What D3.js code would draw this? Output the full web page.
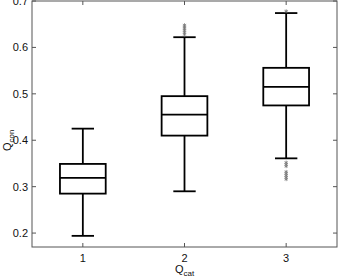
<!doctype html>
<html>
<head>
<style>
  body { margin: 0; background: #fff; }
  text { font-family: "Liberation Sans", Arial, sans-serif; }
</style>
<script src="https://cdn.jsdelivr.net/npm/d3@7"></script>
</head>
<body>
<svg width="338" height="280" id="chart"></svg>
<script>
// box stats
var cats = [1, 2, 3];
var lowWhisk = [0.194, 0.290, 0.361];
var q1 = [0.285, 0.410, 0.475];
var med = [0.319, 0.455, 0.515];
var q3 = [0.349, 0.495, 0.556];
var highWhisk = [0.425, 0.622, 0.674];
var outliers = [
  [],
  [0.628, 0.632, 0.636, 0.640, 0.644, 0.648],
  [0.344, 0.348, 0.352, 0.316, 0.320, 0.324, 0.328, 0.332, 0.678]
];
var yTicks = [0.2, 0.3, 0.4, 0.5, 0.6, 0.7];

var svg = d3.select("#chart");
var pLeft = 32, pRight = 337, pTop = 1, pBottom = 247;

var x = d3.scaleLinear().domain([0.5, 3.5]).range([pLeft, pRight]);
var y = d3.scaleLinear().domain([0.17, 0.7]).range([pBottom, pTop]);

var axisColor = "#555";

// frame
svg.append("rect")
   .attr("x", pLeft).attr("y", pTop)
   .attr("width", pRight - pLeft).attr("height", pBottom - pTop)
   .attr("fill", "none").attr("stroke", axisColor).attr("stroke-width", 1);

// ticks (inward, on all four sides)
var tl = 4;
yTicks.forEach(function(t) {
  svg.append("line").attr("x1", pLeft).attr("x2", pLeft + tl)
     .attr("y1", y(t)).attr("y2", y(t)).attr("stroke", axisColor);
  svg.append("line").attr("x1", pRight).attr("x2", pRight - tl)
     .attr("y1", y(t)).attr("y2", y(t)).attr("stroke", axisColor);
  svg.append("text").attr("x", pLeft - 4).attr("y", y(t) + 4)
     .attr("text-anchor", "end").attr("font-size", "11px").attr("fill", "#111")
     .text(d3.format(".1f")(t));
});
cats.forEach(function(c) {
  svg.append("line").attr("x1", x(c)).attr("x2", x(c))
     .attr("y1", pBottom).attr("y2", pBottom - tl).attr("stroke", axisColor);
  svg.append("line").attr("x1", x(c)).attr("x2", x(c))
     .attr("y1", pTop).attr("y2", pTop + tl).attr("stroke", axisColor);
  svg.append("text").attr("x", x(c)).attr("y", pBottom + 15)
     .attr("text-anchor", "middle").attr("font-size", "11px").attr("fill", "#111")
     .text(c);
});

// axis labels
var xl = svg.append("text").attr("x", x(2)).attr("y", 273)
   .attr("text-anchor", "middle").attr("font-size", "11px").attr("fill", "#111");
xl.append("tspan").text("Q");
xl.append("tspan").attr("font-size", "8px").attr("dy", 3).text("cat");

var yl = svg.append("text")
   .attr("transform", "translate(11," + y(0.4) + ") rotate(-90)")
   .attr("text-anchor", "middle").attr("font-size", "11px").attr("fill", "#111");
yl.append("tspan").text("Q");
yl.append("tspan").attr("font-size", "8px").attr("dy", 3).text("con");

// boxes
var bw = x(0.5 + 0.225) - x(0.5);
var cw = x(0.5 + 0.11) - x(0.5);
var g = svg.append("g").attr("stroke", "#000").attr("stroke-width", 1.8).attr("fill", "none");
cats.forEach(function(c, i) {
  var cx = x(c);
  g.append("line").attr("x1", cx).attr("x2", cx).attr("y1", y(q3[i])).attr("y2", y(highWhisk[i]));
  g.append("line").attr("x1", cx).attr("x2", cx).attr("y1", y(q1[i])).attr("y2", y(lowWhisk[i]));
  g.append("line").attr("x1", cx - cw).attr("x2", cx + cw).attr("y1", y(highWhisk[i])).attr("y2", y(highWhisk[i]));
  g.append("line").attr("x1", cx - cw).attr("x2", cx + cw).attr("y1", y(lowWhisk[i])).attr("y2", y(lowWhisk[i]));
  g.append("rect").attr("x", cx - bw).attr("y", y(q3[i]))
   .attr("width", 2 * bw).attr("height", y(q1[i]) - y(q3[i]));
  g.append("line").attr("x1", cx - bw).attr("x2", cx + bw).attr("y1", y(med[i])).attr("y2", y(med[i]));

  // outliers as small gray asterisks
  outliers[i].forEach(function(v) {
    svg.append("path")
       .attr("d", d3.symbol().type(d3.symbolAsterisk || d3.symbolCross).size(10)())
       .attr("transform", "translate(" + cx + "," + y(v) + ")")
       .attr("fill", "none").attr("stroke", "#777").attr("stroke-width", 0.8);
  });
});
</script>
</body>
</html>
